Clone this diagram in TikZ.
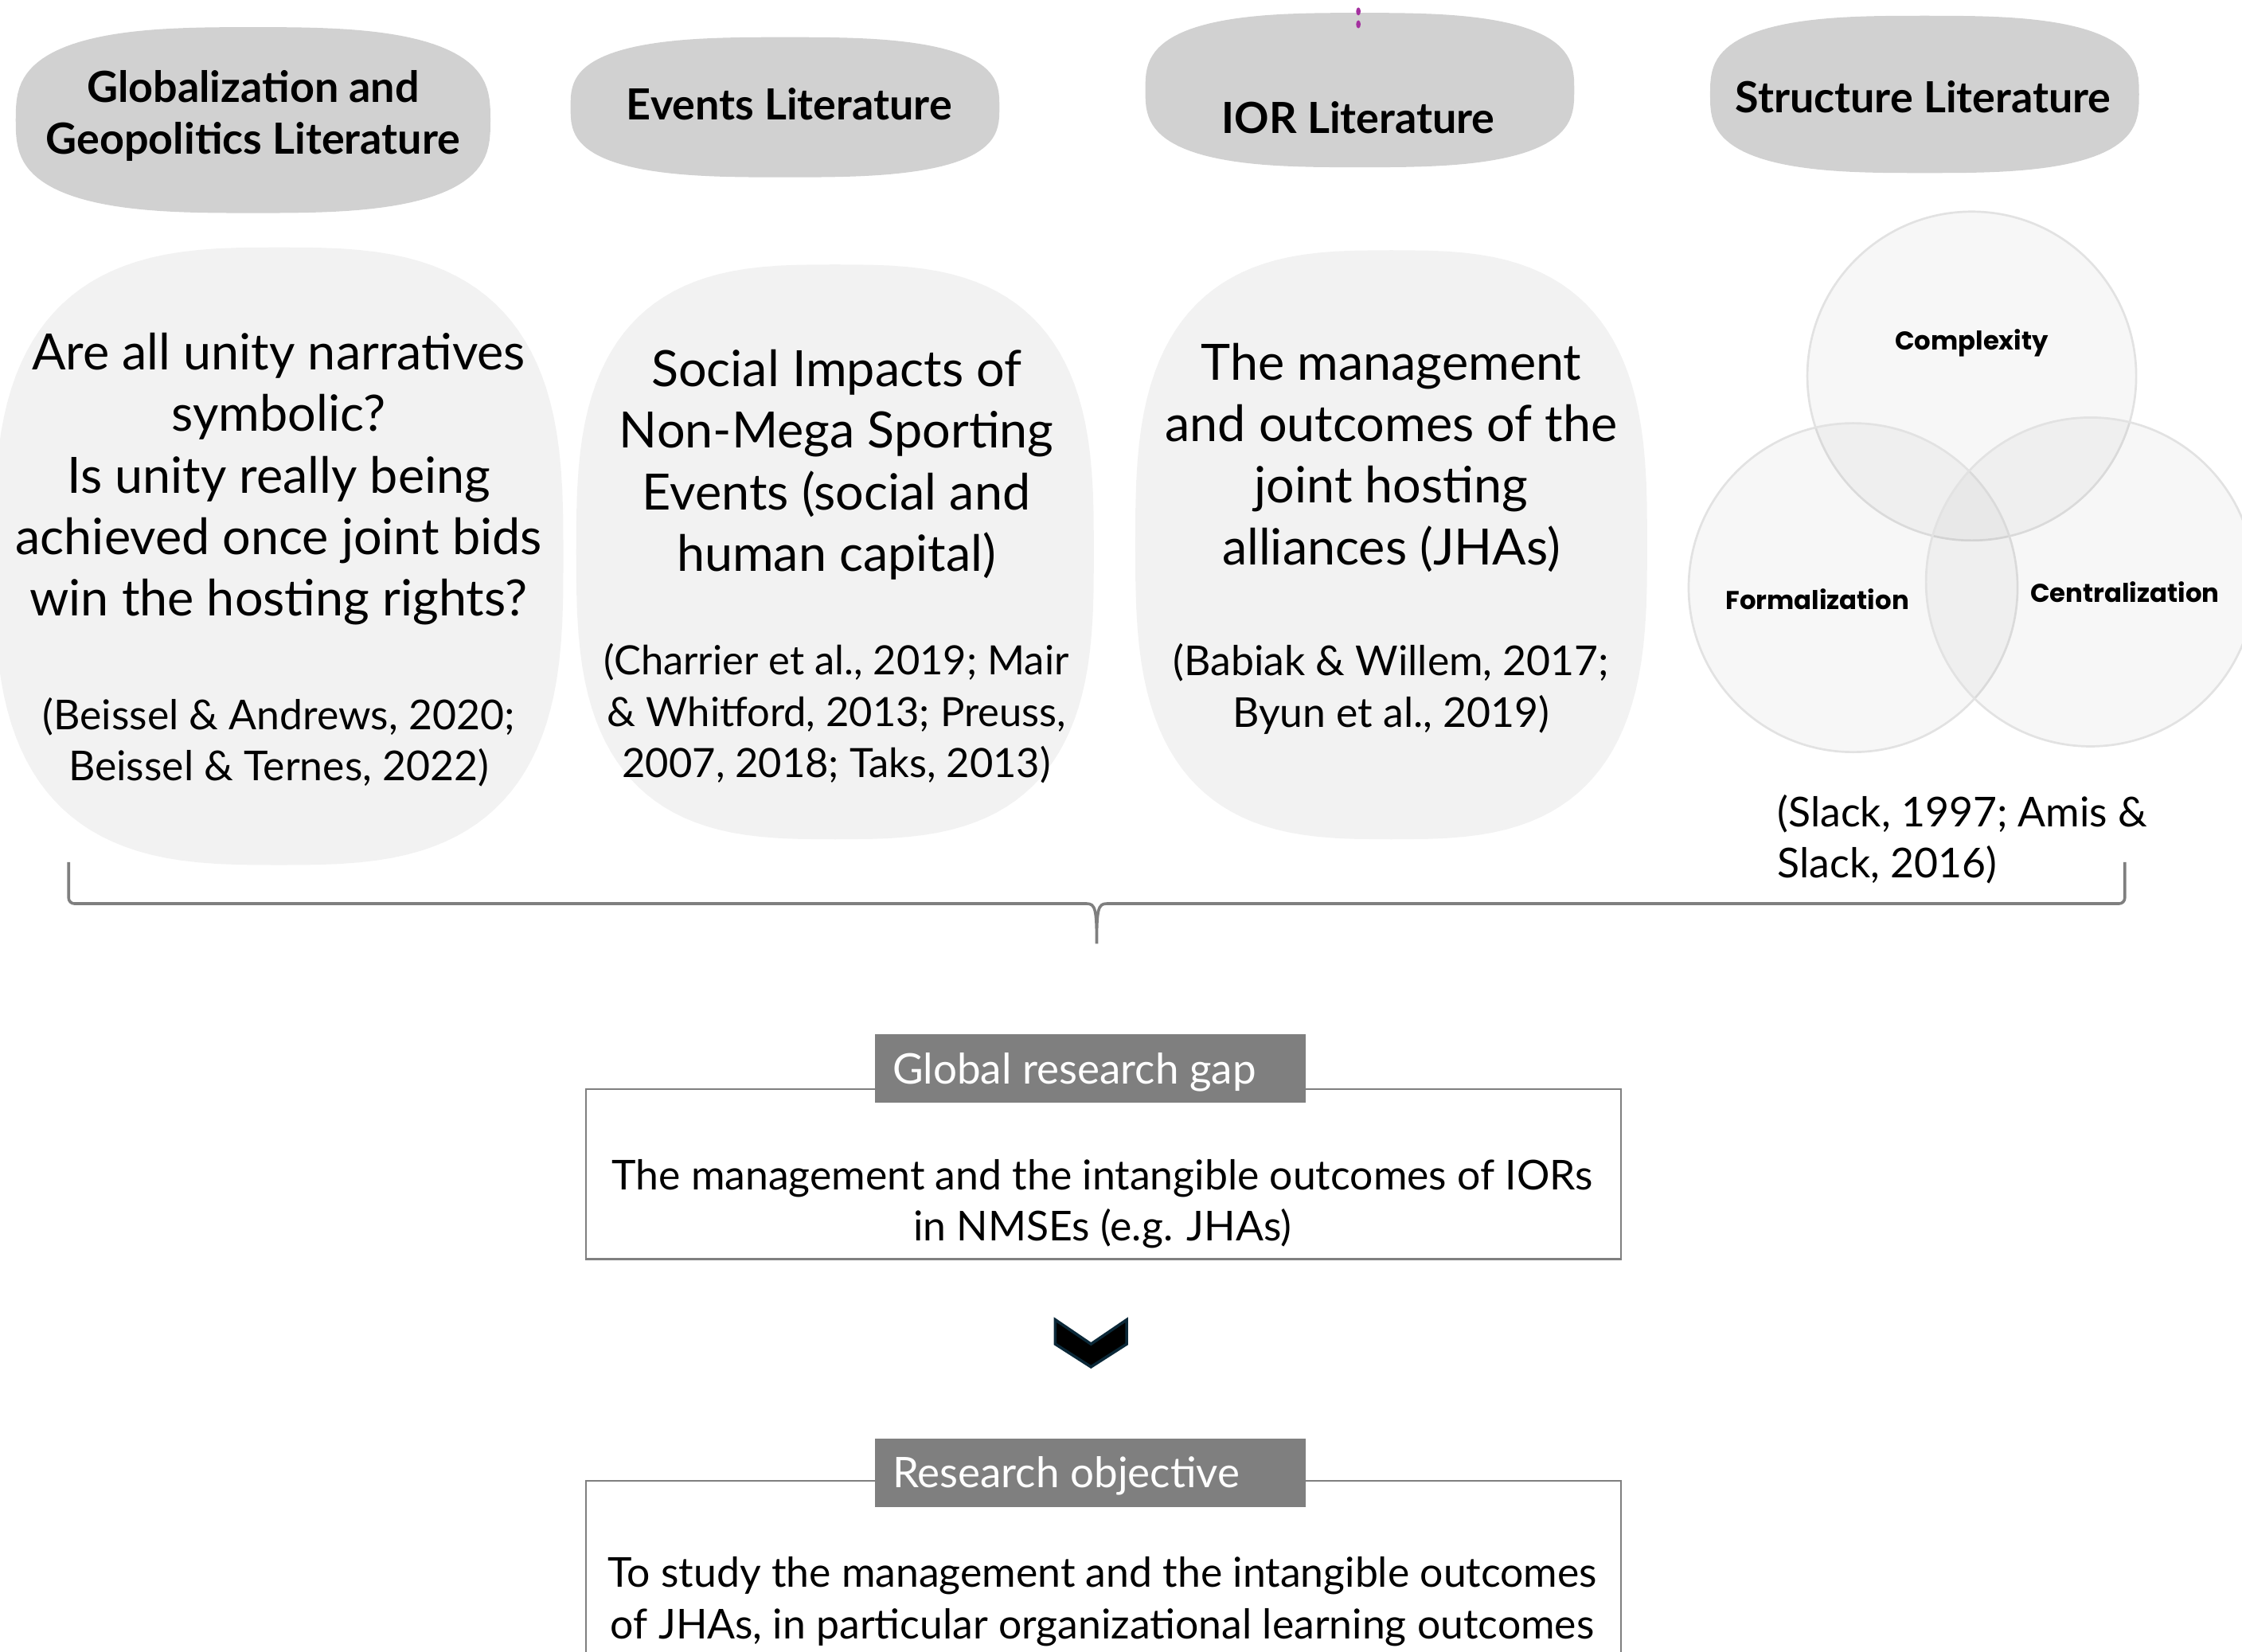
\documentclass[tikz,border=0pt]{standalone}
\usepackage{fontspec}
\setmainfont{Lato}
\newfontfamily\vennfont{Poppins}
\definecolor{blobdark}{HTML}{D1D1D1}
\definecolor{bloblight}{HTML}{F2F2F2}
\definecolor{gapgray}{HTML}{7F7F7F}
\definecolor{chevnavy}{HTML}{0B2838}
\definecolor{dotpurple}{HTML}{A4309F}
\definecolor{vennline}{HTML}{E2E2E2}
\newcommand{\squircle}[5]{%
  \fill[#5] plot[domain=0:360,samples=121,variable=\t]
  ({#1 + #3*cos(\t)*pow(abs(cos(\t))+0.0001,-0.32)},
   {#2 + #4*sin(\t)*pow(abs(sin(\t))+0.0001,-0.32)}) -- cycle;}
\tikzset{
  hdr/.style={font=\fontsize{30}{36}\selectfont\bfseries, align=center, inner sep=0pt},
  maintxt/.style={font=\fontsize{35}{43}\selectfont, align=center, inner sep=0pt},
  citetxt/.style={font=\fontsize{28.8}{36}\selectfont, align=center, inner sep=0pt},
  vennlbl/.style={font=\vennfont\fontsize{18}{20}\selectfont\bfseries, inner sep=0pt},
  venncircle/.style={circle, minimum size=230pt, draw=vennline, line width=1.5pt, fill=black, fill opacity=0.03, draw opacity=1},
  headbox/.style={fill=gapgray, minimum width=301pt, minimum height=48pt, inner sep=0pt, anchor=north west},
  headtxt/.style={font=\fontsize{29.5}{32}\selectfont, text=white, inner sep=0pt, anchor=west},
  framebox/.style={draw=gapgray, line width=1.5pt, anchor=north west, inner sep=0pt},
  bracestyle/.style={draw=gapgray, line width=2pt},
}
\begin{document}
\begin{tikzpicture}[x=1pt,y=-1pt]
\useasboundingbox (0,0) rectangle (1568,1155);
% top headers
\squircle{177}{84}{166}{65}{blobdark}
\squircle{549}{75}{150}{49}{blobdark}
\squircle{951}{63}{150}{54}{blobdark}
\squircle{1346}{66}{150}{55}{blobdark}
\fill[dotpurple] (950,8) ellipse (1.6 and 2.8);
\fill[dotpurple] (950,17) ellipse (1.6 and 2.8);
\node[hdr] (h1) at (177,81) {Globalization and\\Geopolitics Literature};
\node[hdr] (h2) at (552,73) {Events Literature};
\node[hdr] (h3) at (950,82) {IOR Literature};
\node[hdr] (h4) at (1345,68) {Structure Literature};
% light blobs
\squircle{195}{389}{199}{216}{bloblight}
\squircle{584}{386}{181}{201}{bloblight}
\squircle{973}{381}{179}{206}{bloblight}
\node[maintxt] (m1) at (195,335) {Are all unity narratives\\symbolic?\\Is unity really being\\achieved once joint bids\\win the hosting rights?};
\node[citetxt] (c1) at (195,519) {(Beissel \& Andrews, 2020;\\Beissel \& Ternes, 2022)};
\node[maintxt] (m2) at (585,325) {Social Impacts of\\Non-Mega Sporting\\Events (social and\\human capital)};
\node[citetxt, font=\fontsize{28.2}{36}\selectfont] (c2) at (585,499) {(Charrier et al., 2019; Mair\\\& Whitford, 2013; Preuss,\\2007, 2018; Taks, 2013)};
\node[maintxt] (m3) at (973,320) {The management\\and outcomes of the\\joint hosting\\alliances (JHAs)};
\node[citetxt] (c3) at (973,482) {(Babiak \& Willem, 2017;\\Byun et al., 2019)};
% venn
\node[venncircle] (vtop) at (1379,263) {};
\node[venncircle] (vleft) at (1296,411) {};
\node[venncircle] (vright) at (1462,407) {};
\node[vennlbl] (lc) at (1379,240) {Complexity};
\node[vennlbl] (lf) at (1271,419) {Formalization};
\node[vennlbl] (lr) at (1486,414) {Centralization};
\node[citetxt, align=left, anchor=west] (c4) at (1243,587) {(Slack, 1997; Amis \&\\Slack, 2016)};
% brace
\coordinate (bL) at (48,603);
\coordinate (bR) at (1486,603);
\coordinate (bTip) at (767,660);
\draw[bracestyle] (bL) -- (48,628) to[out=-90,in=180] (52,632) -- (760,632)
  .. controls (766,632) and (767,636) .. (bTip)
  .. controls (767,636) and (768,632) .. (774,632) -- (1482,632)
  to[out=0,in=-90] (1486,628) -- (bR);
% gap
\node[framebox, minimum width=724pt, minimum height=119pt] (gapbox) at (409,761) {};
\node[headbox] (gaphead) at (612,723) {};
\node[headtxt] (gapheadtxt) at (624,750) {Global research gap};
\node[citetxt] (gaptxt) at (771,842) {The management and the intangible outcomes of IORs\\in NMSEs (e.g. JHAs)};
% chevron
\draw[fill=black, draw=chevnavy, line width=2pt] (738,923) -- (763,940) -- (788,923) -- (788,940) -- (763,956) -- (738,940) -- cycle;
\coordinate (chev) at (763,940);
% objective
\node[framebox, minimum width=724pt, minimum height=140pt] (objbox) at (409,1035) {};
\node[headbox] (objhead) at (612,1006) {};
\node[headtxt] (objheadtxt) at (624,1032) {Research objective};
\node[citetxt] (objtxt) at (771,1120) {To study the management and the intangible outcomes\\of JHAs, in particular organizational learning outcomes};
\end{tikzpicture}
\end{document}
